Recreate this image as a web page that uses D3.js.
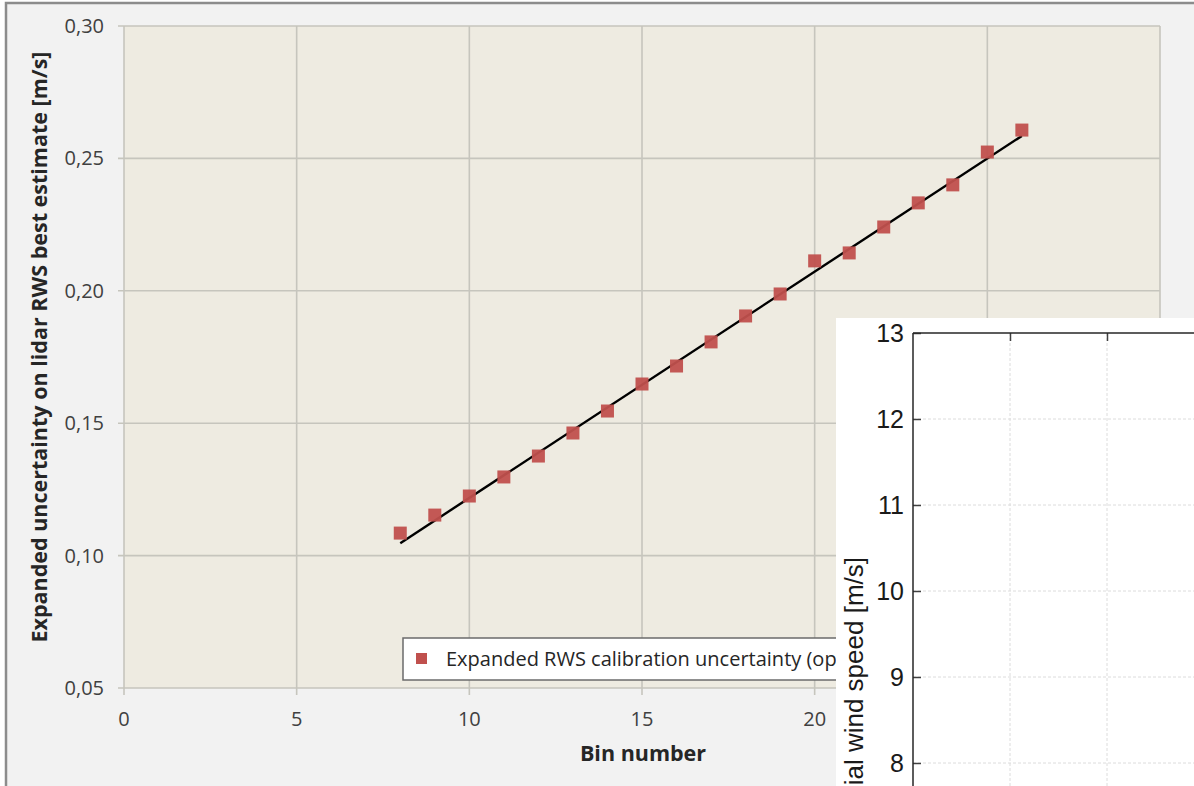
<!DOCTYPE html>
<html>
<head>
<meta charset="utf-8">
<script src="https://cdn.jsdelivr.net/npm/d3@7"></script>
<style>
    body { margin: 0; background: #ffffff; }
    svg { display: block; }
</style>
</head>
<body>
<div id="chart"></div>
<script>
// main chart data
const bins = [8, 9, 10, 11, 12, 13, 14, 15, 16, 17, 18, 19, 20, 21, 22, 23, 24, 25, 26];
const uncertainty = [0.1085, 0.1153, 0.1225, 0.1297, 0.1376, 0.1463, 0.1546, 0.1648, 0.1716, 0.1807,
    0.1905, 0.1988, 0.2113, 0.2143, 0.2241, 0.2332, 0.2400, 0.2524, 0.2607];
const trendX = [8, 26];
const trendY = [0.1047, 0.2585];
const xTicks = [0, 5, 10, 15, 20, 25, 30];
const yTicks = [0.05, 0.10, 0.15, 0.20, 0.25, 0.30];
const legendLabel = 'Expanded RWS calibration uncertainty (op';

// overlapping second chart
const insetYTicks = [8, 9, 10, 11, 12, 13];
const insetXTicks = [1, 2, 3];

const W = 1194, H = 786;
const margin = { left: 124, top: 26, right: 34, bottom: 98 };

const svg = d3.select('#chart').append('svg')
    .attr('width', W)
    .attr('height', H);

// legend is hidden behind the inset past this x
svg.append('defs').append('clipPath').attr('id', 'legend-clip')
    .append('rect').attr('x', 0).attr('y', 0).attr('width', 836).attr('height', H);

// panel
svg.append('rect')
    .attr('x', 6).attr('y', 3)
    .attr('width', W).attr('height', H)
    .attr('fill', '#f2f2f2')
    .attr('stroke', '#8c8c8c')
    .attr('stroke-width', 2.5);

const x = d3.scaleLinear().domain([0, 30]).range([margin.left, W - margin.right]);
const y = d3.scaleLinear().domain([0.05, 0.30]).range([H - margin.bottom, margin.top]);

svg.append('rect')
    .attr('x', x(0)).attr('y', y(0.30))
    .attr('width', x(30) - x(0)).attr('height', y(0.05) - y(0.30))
    .attr('fill', '#eeebe1');

const grid = svg.append('g').attr('stroke', '#c6c5bd').attr('stroke-width', 1.6);
grid.selectAll('line.v').data(xTicks).join('line')
    .attr('class', 'v')
    .attr('x1', d => x(d)).attr('x2', d => x(d))
    .attr('y1', y(0.30)).attr('y2', y(0.05) + 7);
grid.selectAll('line.h').data(yTicks).join('line')
    .attr('class', 'h')
    .attr('x1', x(0) - 6).attr('x2', x(30))
    .attr('y1', d => y(d)).attr('y2', d => y(d));

svg.append('g')
    .selectAll('text').data(xTicks).join('text')
    .attr('x', d => x(d)).attr('y', y(0.05) + 38)
    .attr('text-anchor', 'middle')
    .attr('font-family', 'Open Sans')
    .attr('font-size', 20)
    .attr('fill', '#404040')
    .text(d => d);

const fmt = d => d3.format('.2f')(d).replace('.', ',');
svg.append('g')
    .selectAll('text').data(yTicks).join('text')
    .attr('x', x(0) - 20).attr('y', d => y(d) + 7)
    .attr('text-anchor', 'end')
    .attr('font-family', 'Open Sans')
    .attr('font-size', 20)
    .attr('fill', '#404040')
    .text(fmt);

svg.append('text')
    .attr('x', 643).attr('y', 761)
    .attr('text-anchor', 'middle')
    .attr('font-family', 'Open Sans')
    .attr('font-weight', 'bold')
    .attr('font-size', 21.5)
    .attr('fill', '#262626')
    .text('Bin number');

svg.append('text')
    .attr('transform', 'translate(47,347) rotate(-90)')
    .attr('text-anchor', 'middle')
    .attr('font-family', 'Open Sans')
    .attr('font-weight', 'bold')
    .attr('font-size', 21.5)
    .attr('fill', '#262626')
    .text('Expanded uncertainty on lidar RWS best estimate [m/s]');

// trend line
svg.append('path')
    .datum(trendX.map((d, i) => [d, trendY[i]]))
    .attr('fill', 'none')
    .attr('stroke', '#000')
    .attr('stroke-width', 2.4)
    .attr('d', d3.line().x(d => x(d[0])).y(d => y(d[1])));

const sq = 13;
svg.append('g')
    .selectAll('rect').data(bins).join('rect')
    .attr('x', d => x(d) - sq / 2)
    .attr('y', (d, i) => y(uncertainty[i]) - sq / 2)
    .attr('width', sq).attr('height', sq)
    .attr('fill', '#c0504d')
    .attr('fill-opacity', 0.95);

// legend
const lg = svg.append('g')
    .attr('clip-path', 'url(#legend-clip)')
    .append('g')
    .attr('transform', 'translate(403,638)');
lg.append('rect')
    .attr('width', 560).attr('height', 42)
    .attr('fill', '#fff')
    .attr('stroke', '#6b6b6b')
    .attr('stroke-width', 1.5);
lg.append('rect')
    .attr('x', 13).attr('y', 15).attr('width', 11).attr('height', 11)
    .attr('fill', '#c0504d');
lg.append('text')
    .attr('x', 43).attr('y', 28)
    .attr('font-family', 'Open Sans')
    .attr('font-size', 20)
    .attr('fill', '#262626')
    .text(legendLabel);

// inset chart laid on top
const ix0 = 913, iy0 = 333;
const iy = d3.scaleLinear().domain([8, 13]).range([763, iy0]);
const ix = d3.scaleLinear().domain([0, 1]).range([ix0, 1010]);

const inset = svg.append('g');
inset.append('rect')
    .attr('x', 836).attr('y', 318)
    .attr('width', W - 836).attr('height', H - 318)
    .attr('fill', '#ffffff');

inset.append('g')
    .selectAll('line').data(insetYTicks.slice(0, -1)).join('line')
    .attr('x1', ix0).attr('x2', W)
    .attr('y1', d => iy(d)).attr('y2', d => iy(d))
    .attr('stroke', '#dcdcdc')
    .attr('stroke-dasharray', '3,2');
inset.append('g')
    .selectAll('line').data(insetXTicks).join('line')
    .attr('x1', d => ix(d)).attr('x2', d => ix(d))
    .attr('y1', iy0).attr('y2', H)
    .attr('stroke', '#dcdcdc')
    .attr('stroke-dasharray', '3,2');

inset.append('g')
    .attr('transform', `translate(${ix0},0)`)
    .call(d3.axisRight(iy).tickValues(insetYTicks).tickSize(8).tickFormat(''))
    .call(g => g.select('.domain').remove())
    .call(g => g.selectAll('line').attr('stroke', '#404040').attr('stroke-width', 1.5));
inset.append('g')
    .attr('transform', `translate(0,${iy0})`)
    .call(d3.axisBottom(ix).tickValues(insetXTicks).tickSize(8).tickFormat(''))
    .call(g => g.select('.domain').remove())
    .call(g => g.selectAll('line').attr('stroke', '#404040').attr('stroke-width', 1.5));

inset.append('line')
    .attr('x1', ix0).attr('x2', ix0).attr('y1', iy0).attr('y2', H)
    .attr('stroke', '#262626').attr('stroke-width', 1.5);
inset.append('line')
    .attr('x1', ix0).attr('x2', W).attr('y1', iy0).attr('y2', iy0)
    .attr('stroke', '#262626').attr('stroke-width', 1.5);

inset.append('g')
    .selectAll('text').data(insetYTicks).join('text')
    .attr('x', 904).attr('y', d => iy(d) + 9)
    .attr('text-anchor', 'end')
    .attr('font-family', 'Liberation Sans')
    .attr('font-size', 25)
    .attr('fill', '#1a1a1a')
    .text(d => d);

inset.append('text')
    .attr('transform', 'translate(863,557) rotate(-90)')
    .attr('text-anchor', 'end')
    .attr('font-family', 'Liberation Sans')
    .attr('font-size', 26)
    .attr('fill', '#1a1a1a')
    .text('Radial wind speed [m/s]');
</script>
</body>
</html>
